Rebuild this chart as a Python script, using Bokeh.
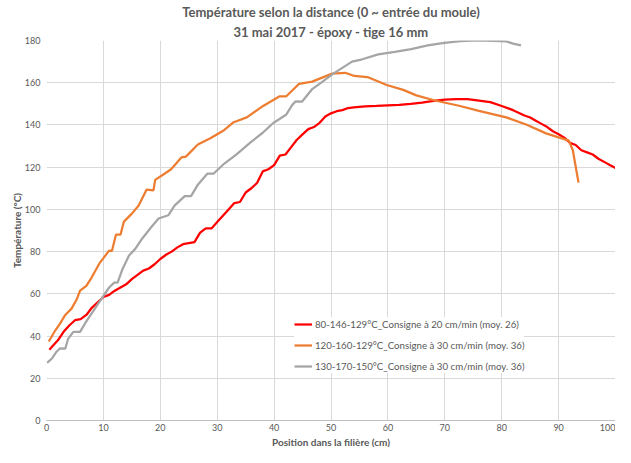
from bokeh.plotting import figure
from bokeh.models import Range1d, Title, Legend, LegendItem, FixedTicker
from bokeh.embed import file_html
from bokeh.resources import INLINE

title_line1 = "Température selon la distance (0 ~ entrée du moule)"
title_line2 = "31 mai 2017 - époxy - tige 16 mm"
x_label = "Position dans la filière (cm)"
y_label = "Température (°C)"

x_ticks = [0, 10, 20, 30, 40, 50, 60, 70, 80, 90, 100]
y_ticks = [0, 20, 40, 60, 80, 100, 120, 140, 160, 180]

name_red = "80-146-129°C_Consigne à 20 cm/min (moy. 26)"
x_red = [0.5, 1, 2, 3, 4, 5, 6, 7, 8, 9, 10, 11, 12, 13, 14, 15, 16, 17, 18, 19, 20,
         21, 22, 23, 24, 25, 26, 27, 28, 29, 30, 31, 32, 33, 34, 35, 36, 37, 38, 39, 40,
         41, 42, 43, 44, 45, 46, 47, 48, 49, 50, 51, 52, 53, 54, 56, 58, 60, 62, 64, 66,
         68, 70, 72, 74, 76, 78, 80, 82, 84, 85, 86, 87, 88, 89, 90, 91, 92, 93, 94, 95,
         96, 97, 98, 99, 100]
t_red = [33.5, 35, 38, 42, 45, 47.5, 48, 50, 53.5, 56, 58.5, 59.5, 61.5, 63, 64.5, 67, 69,
         71, 72, 74, 76.5, 78.5, 80, 82, 83.5, 84, 84.5, 89, 91, 91, 94, 97, 100, 103, 103.5,
         108, 110, 112.5, 118, 119, 121, 125.5, 126, 129.5, 133, 135.5, 138, 139, 141, 144,
         145.5, 146.5, 147, 148, 148.3, 148.8, 149, 149.3, 149.5, 150, 150.6, 151.4, 152,
         152.2, 152.2, 151.5, 150.8, 149, 147, 144.5, 143.5, 142, 140.5, 139, 137, 135.6,
         134, 131.5, 130.5, 128, 127, 126, 124, 122.5, 121, 119.6]

name_orange = "120-160-129°C_Consigne à 30 cm/min (moy. 36)"
x_orange = [0.4, 1.5, 2.4, 3.3, 4.4, 5.3, 5.9, 7, 7.9, 9.3, 11, 11.5, 12.2, 13, 13.6, 15,
            16.2, 17.6, 18.8, 19.1, 20.8, 21.9, 23.7, 24.5, 26.6, 28.8, 31.2, 32.9, 35.2,
            38, 40.9, 42.1, 44.4, 46.7, 49, 50.2, 52.5, 54.1, 56.4, 59.8, 62.7, 65, 68.1,
            72.5, 76, 80.8, 84.3, 87.8, 91.8, 92.5, 93.5]
t_orange = [37.4, 42.5, 46, 50, 53, 57.3, 61.5, 63.8, 67.6, 74.4, 80.5, 80.3, 88, 88, 94.2,
            98, 101.8, 109.4, 109, 114, 117, 119, 124.6, 125, 130.7, 133.7, 137.5, 141.3,
            143.6, 148.9, 153.5, 153.5, 159.5, 160.5, 163, 164.3, 164.7, 163.2, 162.7, 158.9,
            156.6, 154, 151.7, 149.1, 146.7, 143.6, 140.2, 136, 132.6, 128, 112.7]

name_gray = "130-170-150°C_Consigne à 30 cm/min (moy. 36)"
x_gray = [0.1, 1, 1.8, 2.4, 3.3, 3.8, 4.7, 5.9, 7, 9.3, 11, 11.9, 12.5, 13.3, 14.5, 15.6,
          16.8, 18.5, 19.7, 21.4, 22.5, 24.3, 25.4, 26.6, 28.3, 29.4, 31.2, 33.4, 35.7, 38,
          39.8, 42.1, 43.2, 43.8, 44.9, 46.7, 48.4, 50.4, 53.7, 55.5, 58.3, 61.2, 64.1, 67,
          69.9, 72.8, 75.7, 78.6, 80.8, 82, 83.4]
t_gray = [27.3, 29.5, 32.7, 34.2, 34, 38.7, 42, 42, 47, 56.2, 63, 65.3, 65.3, 71.4, 78.2,
          81.3, 86.1, 91.9, 95.7, 97.2, 101.8, 106.3, 106.3, 111.7, 117, 117, 121.6, 126.1,
          131.4, 136.3, 140.8, 144.8, 149.5, 151.2, 151, 157, 160.3, 164.3, 170, 171.1,
          173.4, 174.6, 175.9, 177.7, 178.9, 179.7, 180, 179.8, 179.6, 178.5, 177.7]

FONT = "Lato"
TXT = "#595959"

p = figure(width=615, height=447, output_backend="svg", toolbar_location=None,
           x_range=Range1d(0, 100), y_range=Range1d(0, 180),
           min_border_left=46, min_border_right=0, min_border_top=31, min_border_bottom=0)
p.title = None
p.outline_line_color = None
p.background_fill_color = "white"
p.border_fill_color = "white"

t2 = Title(text=title_line2, align="center", text_font=FONT, text_font_size="13px",
           text_font_style="bold", text_color=TXT, standoff=2)
t1 = Title(text=title_line1, align="center", text_font=FONT, text_font_size="13px",
           text_font_style="bold", text_color=TXT, standoff=2)
p.add_layout(t2, "above")
p.add_layout(t1, "above")

for ax in (p.xaxis[0], p.yaxis[0]):
    ax.major_tick_out = 0
    ax.major_tick_in = 0
    ax.minor_tick_out = 0
    ax.minor_tick_in = 0
    ax.major_label_text_font = FONT
    ax.major_label_text_font_size = "9px"
    ax.major_label_text_color = TXT
    ax.axis_label_text_font = FONT
    ax.axis_label_text_font_size = "10px"
    ax.axis_label_text_font_style = "bold"
    ax.axis_label_text_color = TXT

p.xaxis.ticker = FixedTicker(ticks=x_ticks)
p.yaxis.ticker = FixedTicker(ticks=y_ticks)
p.yaxis.axis_label = y_label
p.xaxis.axis_line_color = "#bfbfbf"
p.yaxis.axis_line_color = None
p.xaxis.major_label_standoff = 3
p.yaxis.major_label_standoff = 6
p.yaxis.axis_label_standoff = -1

xt = Title(text=x_label, align="center", text_font=FONT, text_font_size="10px",
           text_font_style="bold", text_color=TXT, standoff=0)
p.add_layout(xt, "below")

p.xgrid.ticker = FixedTicker(ticks=x_ticks)
p.ygrid.ticker = FixedTicker(ticks=y_ticks)
p.xgrid.grid_line_color = "#d9d9d9"
p.ygrid.grid_line_color = "#d9d9d9"

r1 = p.line(x_red, t_red, line_color="#ff0000", line_width=2.25)
r2 = p.line(x_orange, t_orange, line_color="#ed7d31", line_width=2.25)
r3 = p.line(x_gray, t_gray, line_color="#a5a5a5", line_width=2.25)

legend = Legend(items=[LegendItem(label=name_red, renderers=[r1]),
                       LegendItem(label=name_orange, renderers=[r2]),
                       LegendItem(label=name_gray, renderers=[r3])],
                location=(248, 47), orientation="vertical",
                label_text_font=FONT, label_text_font_size="9.7px", label_text_color=TXT,
                glyph_width=18, glyph_height=14, label_height=14, spacing=7,
                padding=6, margin=0, label_standoff=3,
                background_fill_color="white", background_fill_alpha=1.0,
                border_line_color=None)
p.add_layout(legend, "center")

open("out.html", "w").write(file_html(p, INLINE))
